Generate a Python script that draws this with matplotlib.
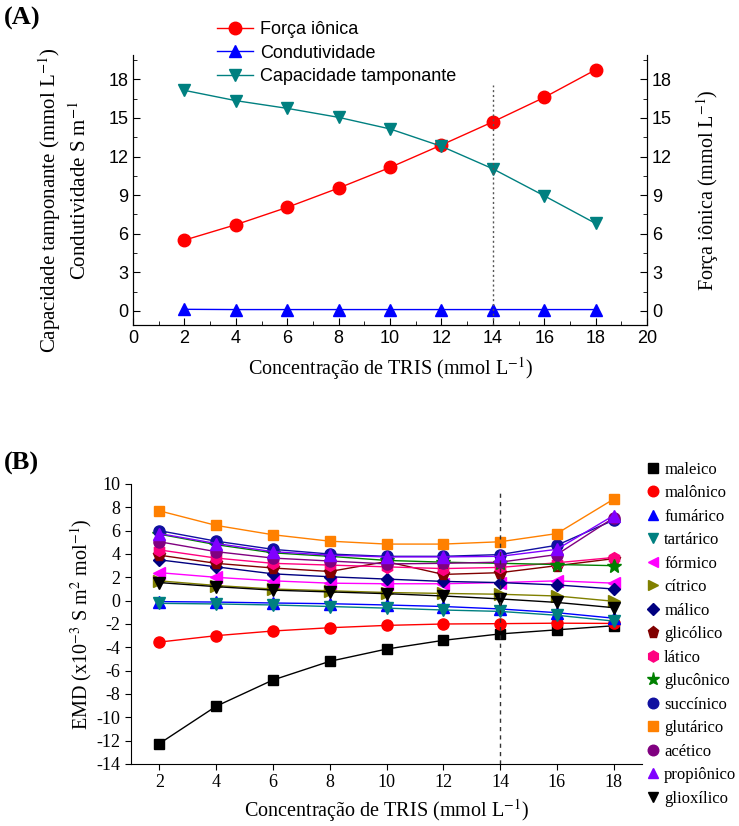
import matplotlib
matplotlib.use("Agg")
import matplotlib.pyplot as plt
from matplotlib.ticker import MultipleLocator

plt.rcParams['mathtext.fontset'] = 'stix'
plt.rcParams['axes.unicode_minus'] = False
SERIF = ['Liberation Serif', 'DejaVu Serif']
SANS = ['Liberation Sans', 'DejaVu Sans']

# ---------------- Panel A data ----------------
tris_a = [2, 4, 6, 8, 10, 12, 14, 16, 18]
forca_ionica = [5.5, 6.7, 8.05, 9.55, 11.15, 12.9, 14.7, 16.6, 18.75]
condutividade = [0.12, 0.1, 0.1, 0.1, 0.1, 0.1, 0.1, 0.1, 0.1]
capacidade = [17.15, 16.35, 15.75, 15.05, 14.15, 12.8, 11.05, 8.95, 6.8]

# ---------------- Panel B data ----------------
tris_b = [2, 4, 6, 8, 10, 12, 14, 16, 18]
maleico = [-12.25, -9.05, -6.8, -5.2, -4.15, -3.4, -2.85, -2.5, -2.15]
malonico = [-3.55, -3.0, -2.6, -2.32, -2.12, -2.0, -1.97, -1.93, -1.95]
fumarico = [-0.08, -0.12, -0.2, -0.26, -0.37, -0.5, -0.71, -1.03, -1.5]
tartarico = [-0.23, -0.28, -0.37, -0.5, -0.64, -0.8, -0.92, -1.25, -1.75]
formico = [2.4, 2.0, 1.7, 1.5, 1.45, 1.45, 1.55, 1.7, 1.5]
citrico = [1.7, 1.3, 1.0, 0.85, 0.7, 0.62, 0.55, 0.4, -0.05]
glioxilico = [1.55, 1.2, 0.9, 0.75, 0.6, 0.4, 0.15, -0.15, -0.6]
malico = [3.5, 2.9, 2.3, 2.05, 1.85, 1.65, 1.55, 1.35, 1.0]
glicolico = [3.9, 3.2, 2.8, 2.5, 3.35, 2.25, 2.4, 3.0, 3.6]
latico = [4.35, 3.65, 3.2, 3.05, 2.9, 2.75, 2.85, 3.25, 3.7]
gluconico = [5.7, 4.8, 4.1, 3.8, 3.45, 3.3, 3.2, 3.1, 3.0]
succinico = [6.0, 5.1, 4.4, 4.0, 3.8, 3.8, 3.95, 4.75, 6.9]
glutarico = [7.7, 6.45, 5.65, 5.1, 4.85, 4.85, 5.05, 5.75, 8.7]
acetico = [5.05, 4.2, 3.65, 3.4, 3.15, 3.2, 3.3, 3.95, 7.1]
propionico = [5.75, 4.9, 4.2, 3.9, 3.75, 3.75, 3.8, 4.4, 7.3]

series_b = [
    ("maleico", maleico, 's', '#000000', 7.5),
    ("malônico", malonico, 'o', '#FF0000', 8),
    ("fumárico", fumarico, '^', '#0000FF', 8),
    ("tartárico", tartarico, 'v', '#008080', 8),
    ("fórmico", formico, '<', '#FF00FF', 8),
    ("cítrico", citrico, '>', '#808000', 8),
    ("málico", malico, 'D', '#000080', 6.5),
    ("glicólico", glicolico, 'p', '#800000', 8.5),
    ("lático", latico, 'h', '#FF0080', 8.5),
    ("glucônico", gluconico, '*', '#008000', 10),
    ("succínico", succinico, 'o', '#1010A0', 8),
    ("glutárico", glutarico, 's', '#FF8000', 7.5),
    ("acético", acetico, 'o', '#800080', 8),
    ("propiônico", propionico, '^', '#8000FF', 8),
    ("glioxílico", glioxilico, 'v', '#000000', 8),
]

W, H = 739, 826
fig = plt.figure(figsize=(W / 100, H / 100), dpi=100)

# ---------------- Panel A ----------------
axA = fig.add_axes([133 / W, 1 - 325 / H, (647 - 133) / W, (325 - 55) / H])
lF, = axA.plot(tris_a, forca_ionica, '-o', color='#FF0000', lw=1, ms=9, label='Força iônica')
lC, = axA.plot(tris_a, condutividade, '-^', color='#0000FF', lw=1, ms=9, label='Condutividade')
lT, = axA.plot(tris_a, capacidade, '-v', color='#008080', lw=1, ms=9, label='Capacidade tamponante')
axA.plot([14, 14], [-1.1, 17.6], linestyle=(0, (1.5, 2)), color='#555555', lw=1)
axA.set_xlim(0, 20)
axA.set_ylim(-1.1, 19.9)
axA.xaxis.set_major_locator(MultipleLocator(2))
axA.xaxis.set_minor_locator(MultipleLocator(1))
axA.yaxis.set_major_locator(MultipleLocator(3))
axA.yaxis.set_minor_locator(MultipleLocator(1.5))
axA.spines['top'].set_visible(False)
axA.tick_params(which='both', direction='in', labelsize=13)
axA.tick_params(which='major', length=5)
axA.tick_params(which='minor', length=3)
for t in axA.get_xticklabels() + axA.get_yticklabels():
    t.set_fontfamily(SANS)
axA.set_xlabel('Concentração de TRIS (mmol L$^{-1}$)', fontfamily=SERIF, fontsize=14.5, labelpad=6)

axA2 = axA.twinx()
axA2.set_ylim(-1.1, 19.9)
axA2.yaxis.set_major_locator(MultipleLocator(3))
axA2.yaxis.set_minor_locator(MultipleLocator(1.5))
axA2.spines['top'].set_visible(False)
axA2.tick_params(which='both', direction='in', labelsize=13)
axA2.tick_params(which='major', length=5)
axA2.tick_params(which='minor', length=3)
for t in axA2.get_yticklabels():
    t.set_fontfamily(SANS)
axA2.set_ylabel('Força iônica (mmol L$^{-1}$)', fontfamily=SERIF, fontsize=14.5, labelpad=16)

fig.text(50 / W, 1 - 200 / H, 'Capacidade tamponante (mmol L$^{-1}$)', rotation=90,
         ha='center', va='center', fontfamily=SERIF, fontsize=15)
fig.text(80 / W, 1 - 190 / H, 'Condutividade S m$^{-1}$', rotation=90,
         ha='center', va='center', fontfamily=SERIF, fontsize=15)

legA = axA.legend(handles=[lF, lC, lT], loc='upper left', frameon=False,
                  bbox_to_anchor=(210 / W, 1 - 14 / H), bbox_transform=fig.transFigure,
                  prop={'family': SANS, 'size': 13}, handlelength=2.0, handletextpad=0.35,
                  labelspacing=0.35, borderaxespad=0)

fig.text(4 / W, 1 - 18 / H, '(A)', fontfamily=SERIF, fontweight='bold', fontsize=19, va='center')

# ---------------- Panel B ----------------
axB = fig.add_axes([131 / W, 1 - 764 / H, (642 - 131) / W, (764 - 484) / H])
handles = []
for name, vals, mk, col, ms in series_b:
    axB.plot(tris_b, vals, '-', color=col, lw=1)
    h, = axB.plot(tris_b, vals, linestyle='none', marker=mk, color=col, ms=ms, label=name)
    handles.append(h)
axB.plot([14, 14], [-14, 9.3], linestyle=(0, (3, 3)), color='#333333', lw=1)
axB.set_xlim(1, 19)
axB.set_ylim(-14, 10)
axB.set_xticks(range(2, 19, 2))
axB.set_yticks(range(-14, 11, 2))
axB.spines['top'].set_visible(False)
axB.spines['right'].set_visible(False)
axB.tick_params(direction='out', length=4, labelsize=13)
for t in axB.get_xticklabels() + axB.get_yticklabels():
    t.set_fontfamily(SERIF)
axB.set_xlabel('Concentração de TRIS (mmol L$^{-1}$)', fontfamily=SERIF, fontsize=14.5, labelpad=4)
axB.set_ylabel('EMD (x10$^{-3}$ S m$^{2}$ mol$^{-1}$)', fontfamily=SERIF, fontsize=14.5, labelpad=2)

fig.legend(handles=handles, loc='upper left', frameon=False,
           bbox_to_anchor=(640 / W, 1 - 455 / H),
           prop={'family': SERIF, 'size': 12}, handlelength=0.8, handletextpad=0.25,
           labelspacing=0.45, borderaxespad=0, markerscale=0.95)

fig.text(4 / W, 1 - 463 / H, '(B)', fontfamily=SERIF, fontweight='bold', fontsize=19, va='center')

fig.savefig('out.png', dpi=100)
